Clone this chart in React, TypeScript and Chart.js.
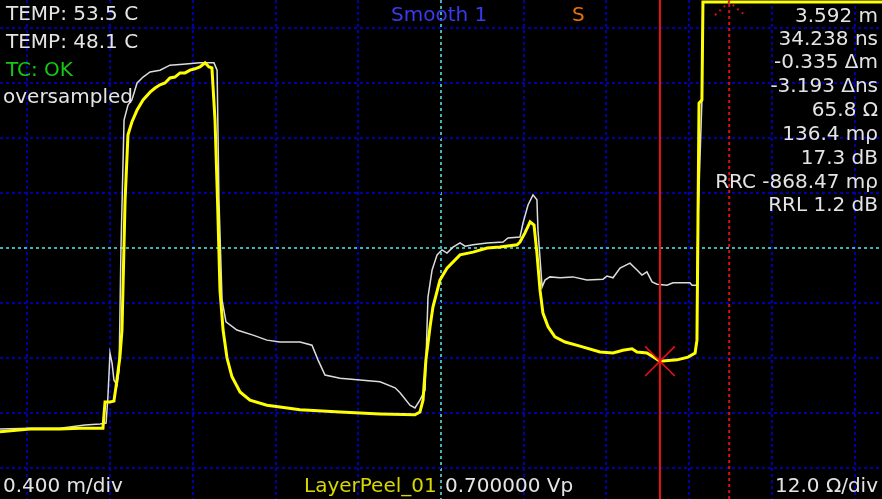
import React, { useEffect, useRef } from 'react';
import { Chart, registerables } from 'chart.js';

Chart.register(...registerables);

// Scale settings (from "0.400 m/div" and "12.0 Ω/div")
const X_PER_DIV = 0.4;
const Y_PER_DIV = 12.0;
const X_CENTER = 2.533;
const Y_CENTER = 50;
const X_MIN = 0.4;
const X_MAX = 4.666;
const Y_MIN = -4.76;
const Y_MAX = 104.11;

// Yellow trace (LayerPeel_01): distance (m) / impedance (Ω)
const yellowX = [
  0.400, 0.545, 0.690, 0.787, 0.898, 0.908, 0.932, 0.951, 0.961, 0.980,
  0.990, 1.005, 1.019, 1.038, 1.063, 1.092, 1.126, 1.150, 1.174, 1.198,
  1.222, 1.246, 1.271, 1.295, 1.319, 1.343, 1.367, 1.392, 1.411, 1.425,
  1.440, 1.452, 1.464, 1.479, 1.498, 1.522, 1.561, 1.609, 1.691, 1.754,
  1.851, 2.045, 2.238, 2.407, 2.431, 2.446, 2.460, 2.480, 2.494, 2.528,
  2.562, 2.625, 2.688, 2.756, 2.818, 2.901, 2.915, 2.939, 2.964, 2.983,
  2.997, 3.012, 3.026, 3.051, 3.084, 3.133, 3.205, 3.302, 3.365, 3.413,
  3.457, 3.481, 3.529, 3.568, 3.592, 3.675, 3.728, 3.762, 3.771, 3.776,
  3.781, 3.795, 3.800, 4.666,
];
const yellowY = [
  9.9, 10.5, 10.5, 10.7, 10.7, 16.4, 16.4, 16.6, 19.7, 26.2,
  32.1, 60.5, 74.7, 77.5, 80.1, 82.3, 84.0, 84.9, 85.6, 86.0,
  87.1, 87.3, 88.2, 88.2, 88.8, 89.1, 89.5, 90.4, 89.5, 89.3,
  77.9, 60.5, 40.8, 32.1, 26.0, 21.9, 18.6, 16.8, 15.7, 15.3,
  14.7, 14.2, 13.8, 13.6, 14.2, 16.8, 25.6, 32.8, 37.1, 43.0,
  45.6, 48.5, 49.1, 50.0, 50.2, 50.7, 51.3, 53.3, 55.7, 55.0,
  48.9, 40.8, 35.8, 32.8, 30.6, 29.5, 28.6, 27.3, 27.1, 27.7,
  28.0, 27.3, 27.1, 26.0, 25.3, 25.6, 26.2, 27.1, 29.9, 56.1,
  81.6, 82.3, 103.7, 103.7,
];

// White trace (oversampled / Smooth 1)
const whiteX = [
  0.400, 0.545, 0.690, 0.811, 0.884, 0.913, 0.922, 0.932, 0.942, 0.951,
  0.966, 0.976, 0.985, 1.000, 1.019, 1.038, 1.063, 1.092, 1.126, 1.174,
  1.222, 1.285, 1.367, 1.435, 1.450, 1.459, 1.474, 1.493, 1.546, 1.624,
  1.691, 1.754, 1.851, 1.909, 1.938, 1.972, 2.045, 2.141, 2.238, 2.311,
  2.335, 2.383, 2.407, 2.431, 2.456, 2.470, 2.490, 2.514, 2.538, 2.562,
  2.591, 2.625, 2.649, 2.688, 2.756, 2.833, 2.857, 2.915, 2.930, 2.954,
  2.978, 2.997, 3.002, 3.022, 3.036, 3.060, 3.109, 3.171, 3.239, 3.317,
  3.336, 3.365, 3.399, 3.447, 3.481, 3.505, 3.529, 3.554, 3.578, 3.626,
  3.655, 3.737, 3.747, 3.771, 3.776, 3.795, 3.800, 4.666,
];
const whiteY = [
  10.5, 10.7, 10.7, 11.4, 11.6, 11.8, 17.5, 27.1, 24.9, 21.2,
  20.1, 23.4, 49.6, 77.9, 81.2, 82.3, 86.0, 87.3, 88.4, 88.8,
  89.9, 90.1, 90.4, 90.4, 88.8, 60.5, 38.7, 33.9, 32.1, 31.0,
  29.9, 29.5, 29.5, 28.8, 25.6, 22.3, 21.6, 21.2, 20.8, 19.5,
  18.4, 15.7, 15.1, 16.8, 19.0, 39.3, 45.2, 48.5, 49.6, 48.9,
  50.2, 51.1, 50.4, 50.7, 51.1, 51.3, 52.2, 52.4, 55.5, 59.4,
  61.6, 60.5, 53.9, 41.5, 43.0, 43.7, 43.5, 43.7, 43.0, 43.2,
  43.9, 43.5, 45.6, 46.7, 45.2, 44.1, 44.8, 42.6, 42.1, 41.9,
  42.4, 42.4, 41.9, 41.9, 56.1, 82.3, 103.7, 103.7,
];

// Cursors
const cursorA = 3.592; // m
const cursorB = 3.927; // m (cursorA - (-0.335))
const cursorAValue = 25.3; // Ω on yellow trace at cursor A
const arrowX = [3.858, 3.927, 4.003];
const arrowY = [100.8, 103.7, 100.8];

// Text
const leftInfo = ['TEMP: 53.5 C', 'TEMP: 48.1 C', 'TC: OK', 'oversampled'];
const rightInfo = [
  '3.592 m', '34.238 ns', '-0.335 Δm', '-3.193 Δns', '65.8 Ω',
  '136.4 mρ', '17.3 dB', 'RRC -868.47 mρ', 'RRL 1.2 dB',
];
const topSmooth = 'Smooth 1';
const topS = 'S';
const bottomLeft = '0.400 m/div';
const bottomName = 'LayerPeel_01';
const bottomVp = '0.700000 Vp';
const bottomRight = '12.0 Ω/div';

const GRID_BLUE = '#0000a8';
const GRID_CYAN = '#3fb4b4';
const WHITE_TXT = '#e4e4e4';
const RED = '#ee1111';

const textPlugin = {
  id: 'scopeText',
  afterDraw(chart: any) {
    const ctx = chart.ctx;
    ctx.save();
    ctx.font = '20px "DejaVu Sans"';
    ctx.textBaseline = 'alphabetic';
    const put = (t: string, x: number, y: number, c: string, align: CanvasTextAlign = 'left') => {
      ctx.fillStyle = c;
      ctx.textAlign = align;
      ctx.fillText(t, x, y);
    };
    const leftBase = [20, 48, 76, 103];
    const leftCol = [WHITE_TXT, WHITE_TXT, '#14c814', WHITE_TXT];
    leftInfo.forEach((t, i) => put(t, i === 3 ? 3 : 6, leftBase[i], leftCol[i]));
    const rightBase = [22, 45, 68, 92, 116, 140, 164, 188, 211];
    rightInfo.forEach((t, i) => put(t, 878, rightBase[i], WHITE_TXT, 'right'));
    put(topSmooth, 391, 21, '#3a3af0');
    put(topS, 572, 21, '#e8700c');
    put(bottomLeft, 3, 492, WHITE_TXT);
    put(bottomName, 304, 492, '#d8d800');
    put(bottomVp, 445, 492, WHITE_TXT);
    put(bottomRight, 878, 492, WHITE_TXT, 'right');
    ctx.restore();
  },
};

const zip = (xs: number[], ys: number[]) => xs.map((x, i) => ({ x, y: ys[i] }));

export default function App() {
  const ref = useRef<HTMLCanvasElement | null>(null);
  useEffect(() => {
    if (!ref.current) return;
    const chart = new Chart(ref.current, {
      type: 'line',
      data: {
        datasets: [
          {
            data: [{ x: cursorA, y: Y_MIN }, { x: cursorA, y: Y_MAX }],
            borderColor: RED, borderWidth: 2, pointRadius: 0,
          },
          {
            data: [{ x: cursorB, y: Y_MIN }, { x: cursorB, y: Y_MAX }],
            borderColor: '#e01010', borderWidth: 2, borderDash: [3, 3], pointRadius: 0,
          },
          {
            data: [{ x: cursorA, y: cursorAValue }],
            showLine: false, pointStyle: 'crossRot', pointRadius: 21,
            pointBorderColor: RED, pointBorderWidth: 1.5, borderColor: RED,
          },
          {
            data: zip(arrowX, arrowY),
            borderColor: '#d01010', borderWidth: 2, borderDash: [2, 4], pointRadius: 0,
          },
          {
            data: zip(yellowX, yellowY),
            borderColor: '#ffff00', borderWidth: 3, pointRadius: 0, tension: 0,
          },
          {
            data: zip(whiteX, whiteY),
            borderColor: '#dcdcdc', borderWidth: 1.5, pointRadius: 0, tension: 0,
          },
        ] as any,
      },
      options: {
        animation: false,
        responsive: true,
        maintainAspectRatio: false,
        events: [],
        layout: { padding: 0, autoPadding: false },
        plugins: { legend: { display: false }, tooltip: { enabled: false } },
        scales: {
          x: {
            type: 'linear', min: X_MIN, max: X_MAX,
            afterBuildTicks: (s: any) => {
              const t = [];
              for (let k = -5; k <= 5; k++) t.push({ value: X_CENTER + k * X_PER_DIV });
              s.ticks = t;
            },
            ticks: { display: false },
            grid: {
              drawTicks: false, lineWidth: 2,
              color: (c: any) => (c.tick && Math.abs(c.tick.value - X_CENTER) < 1e-6 ? GRID_CYAN : GRID_BLUE),
            },
            border: { display: false, dash: [3, 3] },
          },
          y: {
            type: 'linear', min: Y_MIN, max: Y_MAX,
            afterBuildTicks: (s: any) => {
              const t = [];
              for (let k = -4; k <= 4; k++) t.push({ value: Y_CENTER + k * Y_PER_DIV });
              s.ticks = t;
            },
            ticks: { display: false },
            grid: {
              drawTicks: false, lineWidth: 2,
              color: (c: any) => (c.tick && Math.abs(c.tick.value - Y_CENTER) < 1e-6 ? GRID_CYAN : GRID_BLUE),
            },
            border: { display: false, dash: [3, 3] },
          },
        },
      } as any,
      plugins: [textPlugin],
    });
    return () => chart.destroy();
  }, []);
  return (
    <div style={{ position: 'fixed', left: 0, top: 0, width: 882, height: 499, background: '#000' }}>
      <canvas ref={ref} />
    </div>
  );
}
